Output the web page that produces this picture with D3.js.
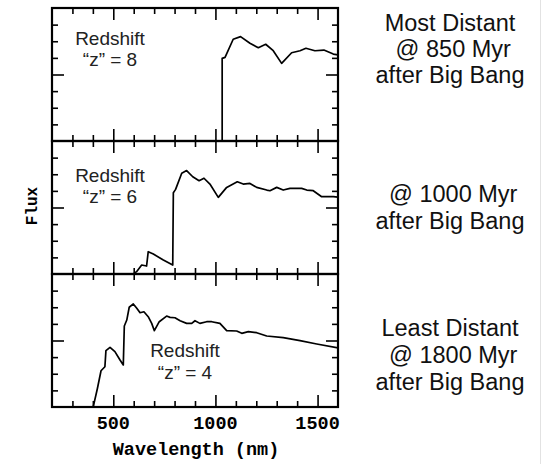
<!DOCTYPE html>
<html>
<head>
<meta charset="utf-8">
<script src="https://cdn.jsdelivr.net/npm/d3@7"></script>
<style>
  html, body { margin: 0; padding: 0; background: #fff; }
  svg { display: block; }
</style>
</head>
<body>
<svg id="chart" width="542" height="464"></svg>
<script>
// Spectra of three galaxies at different redshift (wavelength in nm, flux in arbitrary units)
const z8Wave = [1033, 1033, 1047, 1087, 1123, 1169, 1210, 1246, 1283, 1324, 1373, 1414, 1443, 1487, 1531, 1577, 1600];
const z8Flux = [0, 4.97, 5.03, 6.12, 6.28, 5.88, 5.61, 5.82, 5.43, 4.67, 5.31, 5.43, 5.58, 5.43, 5.47, 5.23, 5.18];

const z6Wave = [585, 598, 614, 639, 663, 671, 696, 745, 791, 794, 805, 835, 859, 889, 920, 944, 973, 1014, 1055, 1107, 1136, 1169, 1202, 1251, 1267, 1300, 1332, 1365, 1422, 1447, 1479, 1520, 1577, 1600];
const z6Flux = [-0.3, 0.0, 0.14, 0.54, 0.48, 1.34, 1.20, 0.84, 0.54, 4.89, 5.09, 6.06, 6.22, 5.85, 5.61, 5.76, 5.41, 4.61, 5.21, 5.55, 5.41, 5.45, 5.21, 5.05, 5.01, 5.21, 5.05, 5.15, 5.15, 5.05, 5.01, 4.65, 4.65, 4.62];

const z4Wave = [395, 402, 422, 440, 459, 464, 484, 508, 533, 549, 554, 566, 578, 598, 615, 631, 650, 671, 688, 701, 725, 761, 778, 802, 827, 859, 884, 900, 924, 957, 982, 1022, 1055, 1104, 1129, 1161, 1202, 1251, 1332, 1414, 1496, 1600];
const z4Flux = [-0.3, 0.02, 1.1, 2.18, 2.42, 3.39, 3.59, 3.33, 2.83, 2.53, 4.87, 5.23, 6.00, 6.20, 5.94, 5.67, 5.73, 5.43, 5.03, 4.59, 5.13, 5.47, 5.39, 5.37, 5.19, 5.03, 5.03, 5.19, 5.03, 5.13, 5.13, 5.03, 4.59, 4.57, 4.43, 4.53, 4.47, 4.27, 4.17, 3.99, 3.79, 3.55];

const redshiftNames = ["Redshift", "Redshift", "Redshift"];
const redshiftValues = ["\u201cz\u201d = 8", "\u201cz\u201d = 6", "\u201cz\u201d = 4"];
const epochText = [
  ["Most Distant", " @ 850 Myr", "after Big Bang"],
  [" @ 1000 Myr", "after Big Bang"],
  ["Least Distant", " @ 1800 Myr", "after Big Bang"]
];
const xTickLabels = [500, 1000, 1500];
const xMinorTicks = [300, 400, 600, 700, 800, 900, 1100, 1200, 1300, 1400];
const yMajorTicks = [4];
const yMinorTicks = [1, 2, 3, 5, 6, 7];

// layout
const svg = d3.select("#chart");
const plot = { left: 52, right: 338, top: 8, bottom: 407 };
const panelH = (plot.bottom - plot.top) / 3;
const labelPos = [
  { x: 110, y1: 45, y2: 66 },
  { x: 110, y1: 182, y2: 203 },
  { x: 185, y1: 357, y2: 379 }
];
const epochPos = [[31, 57, 83], [202, 229], [336, 363, 390]];

const x = d3.scaleLinear().domain([200, 1600]).range([plot.left, plot.right]);

const series = [
  d3.zip(z8Wave, z8Flux),
  d3.zip(z6Wave, z6Flux),
  d3.zip(z4Wave, z4Flux)
];

function styleAxis(g) {
  g.select(".domain").remove();
  g.selectAll(".tick line").attr("stroke", "#000").attr("stroke-width", 1.6);
  g.selectAll(".tick text").remove();
}

series.forEach((data, i) => {
  const y0 = plot.top + i * panelH;
  const y1 = y0 + panelH;
  const y = d3.scaleLinear().domain([0, 8]).range([y1, y0]);
  const panel = svg.append("g");

  // clip to the panel box
  const clipId = "clip" + i;
  svg.append("clipPath").attr("id", clipId)
    .append("rect").attr("x", plot.left).attr("y", y0)
    .attr("width", plot.right - plot.left).attr("height", panelH);

  // spectrum
  const line = d3.line().x(d => x(d[0])).y(d => y(d[1]));
  panel.append("path")
    .datum(data)
    .attr("clip-path", "url(#" + clipId + ")")
    .attr("fill", "none")
    .attr("stroke", "#000")
    .attr("stroke-width", 1.7)
    .attr("stroke-linejoin", "round")
    .attr("d", line);

  // inward ticks on all four sides
  [[xMinorTicks, 6], [xTickLabels, 12]].forEach(([vals, len]) => {
    panel.append("g").attr("transform", `translate(0,${y1})`)
      .call(d3.axisBottom(x).tickValues(vals).tickSize(-len).tickFormat("").tickSizeOuter(0))
      .call(styleAxis);
    panel.append("g").attr("transform", `translate(0,${y0})`)
      .call(d3.axisTop(x).tickValues(vals).tickSize(-len).tickFormat("").tickSizeOuter(0))
      .call(styleAxis);
  });
  [[yMinorTicks, 6], [yMajorTicks, 12]].forEach(([vals, len]) => {
    panel.append("g").attr("transform", `translate(${plot.left},0)`)
      .call(d3.axisLeft(y).tickValues(vals).tickSize(-len).tickFormat("").tickSizeOuter(0))
      .call(styleAxis);
    panel.append("g").attr("transform", `translate(${plot.right},0)`)
      .call(d3.axisRight(y).tickValues(vals).tickSize(-len).tickFormat("").tickSizeOuter(0))
      .call(styleAxis);
  });

  // panel box
  panel.append("rect")
    .attr("x", plot.left).attr("y", y0)
    .attr("width", plot.right - plot.left).attr("height", panelH)
    .attr("fill", "none").attr("stroke", "#000").attr("stroke-width", 2.2);

  // redshift label
  const lp = labelPos[i];
  panel.append("text").attr("x", lp.x).attr("y", lp.y1)
    .attr("text-anchor", "middle")
    .style("font", "19px 'Liberation Sans', Arial, sans-serif").attr("fill", "#222")
    .text(redshiftNames[i]);
  panel.append("text").attr("x", lp.x).attr("y", lp.y2)
    .attr("text-anchor", "middle")
    .style("font", "19px 'Liberation Sans', Arial, sans-serif").attr("fill", "#222")
    .text(redshiftValues[i]);

  // epoch annotation on the right
  epochText[i].forEach((t, k) => {
    svg.append("text")
      .attr("x", 450).attr("y", epochPos[i][k])
      .attr("text-anchor", "middle")
      .style("font", "23.5px 'Liberation Sans', Arial, sans-serif")
      .style("white-space", "pre")
      .attr("fill", "#111")
      .text(t);
  });
});

// wavelength tick labels
svg.append("g").selectAll("text")
  .data(xTickLabels)
  .join("text")
  .attr("x", d => x(d))
  .attr("y", 429)
  .attr("text-anchor", "middle")
  .style("font", "bold 18.5px 'Liberation Mono', 'Courier New', monospace")
  .attr("fill", "#000")
  .text(d => d);

// axis titles
svg.append("text")
  .attr("x", 196).attr("y", 455)
  .attr("text-anchor", "middle")
  .style("font", "bold 18.5px 'Liberation Mono', 'Courier New', monospace")
  .text("Wavelength (nm)");

svg.append("text")
  .attr("transform", "translate(37,206) rotate(-90)")
  .attr("text-anchor", "middle")
  .style("font", "bold 16px 'Liberation Mono', 'Courier New', monospace")
  .text("Flux");

// faint right border
svg.append("line")
  .attr("x1", 540.5).attr("x2", 540.5).attr("y1", 0).attr("y2", 464)
  .attr("stroke", "#e2e2e2").attr("stroke-width", 1);
</script>
</body>
</html>
